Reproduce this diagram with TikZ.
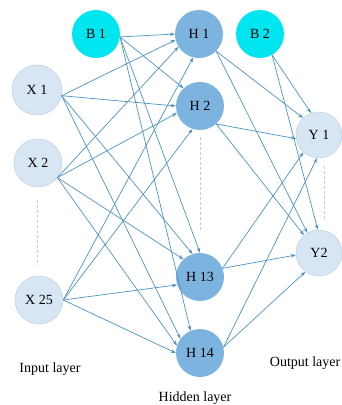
\documentclass[tikz,border=0pt]{standalone}
\usepackage{fontspec}
\setmainfont{Liberation Serif}
\usetikzlibrary{arrows.meta}
\definecolor{cyanb}{HTML}{00E6F0}
\definecolor{hblue}{HTML}{7DB3DF}
\definecolor{lblue}{HTML}{D8E6F3}
\definecolor{lborder}{HTML}{C2D4E8}
\definecolor{edgec}{HTML}{4C93C4}
\definecolor{dashc}{HTML}{C4CFDB}
\begin{document}
\begin{tikzpicture}[x=1pt,y=-1pt,
  neuron/.style={circle, minimum size=48pt, inner sep=0pt, font=\fontsize{14}{16}\selectfont},
  bias/.style={neuron, fill=cyanb},
  hid/.style={neuron, fill=hblue},
  io/.style={neuron, fill=lblue, draw=lborder, line width=0.6pt},
  conn/.style={draw=edgec, line width=0.7pt, -{Stealth[length=5pt,width=3.6pt]}},
  dots/.style={draw=dashc, line width=1pt, dash pattern=on 3pt off 2pt},
  lab/.style={font=\fontsize{14}{16}\selectfont, inner sep=0pt}]
\useasboundingbox (0,0) rectangle (341,405);

% dashed continuation marks
\coordinate (dxa) at (37,200); \coordinate (dxb) at (37,266);
\coordinate (dha) at (200,137); \coordinate (dhb) at (200,232);
\coordinate (dya) at (324,166); \coordinate (dyb) at (324,219);
\draw[dots] (dxa) -- (dxb);
\draw[dots] (dha) -- (dhb);
\draw[dots] (dya) -- (dyb);

% nodes
\node[bias] (B1) at (96,34) {B 1};
\node[bias] (B2) at (260,34) {B 2};
\node[hid] (H1) at (199,34) {H 1};
\node[hid] (H2) at (200,106) {H 2};
\node[hid] (H13) at (200,277) {H 13};
\node[hid] (H14) at (200,353) {H 14};
\node[io, minimum size=50pt] (X1) at (37,90) {X 1};
\node[io] (X2) at (38,163) {X 2};
\node[io] (X25) at (39,300) {X 25};
\node[io, minimum size=46pt] (Y1) at (319,135) {Y 1};
\node[io, minimum size=46pt] (Y2) at (319,253) {Y2};

% input/bias -> hidden
\draw[conn] (B1.-7) -- (H1.180);
\draw[conn] (B1.-7) -- (H2.133);
\draw[conn] (B1.-7) -- (H13.90);
\draw[conn] (B1.-7) -- (H14.113);
\draw[conn] (X1.-13) -- (H1.194);
\draw[conn] (X1.-13) -- (H2.180);
\draw[conn] (X1.-13) -- (H13.108);
\draw[conn] (X1.-13) -- (H14.144);
\draw[conn] (X2.-37) -- (H1.212);
\draw[conn] (X2.-37) -- (H2.197);
\draw[conn] (X2.-37) -- (H13.133);
\draw[conn] (X2.-37) -- (H14.162);
\draw[conn] (X25.0) -- (H1.256);
\draw[conn] (X25.0) -- (H2.252);
\draw[conn] (X25.0) -- (H13.199);
\draw[conn] (X25.0) -- (H14.180);

% hidden/bias -> output
\draw[conn] (H1.-45) -- (Y1.133);
\draw[conn] (H1.-45) -- (Y2.120);
\draw[conn] (H2.-48) -- (Y1.189);
\draw[conn] (H2.-48) -- (Y2.130);
\draw[conn] (H13.21) -- (Y1.228);
\draw[conn] (H13.21) -- (Y2.185);
\draw[conn] (H14.14) -- (Y1.265);
\draw[conn] (H14.14) -- (Y2.234);
\draw[conn] (B2.-60) -- (Y1.110);
\draw[conn] (B2.-60) -- (Y2.93);

% layer labels
\node[lab] (inl) at (50,369) {Input layer};
\node[lab] (hil) at (195,398) {Hidden layer};
\node[lab, anchor=east] (oul) at (340.5,363) {Output layer};
\end{tikzpicture}
\end{document}
